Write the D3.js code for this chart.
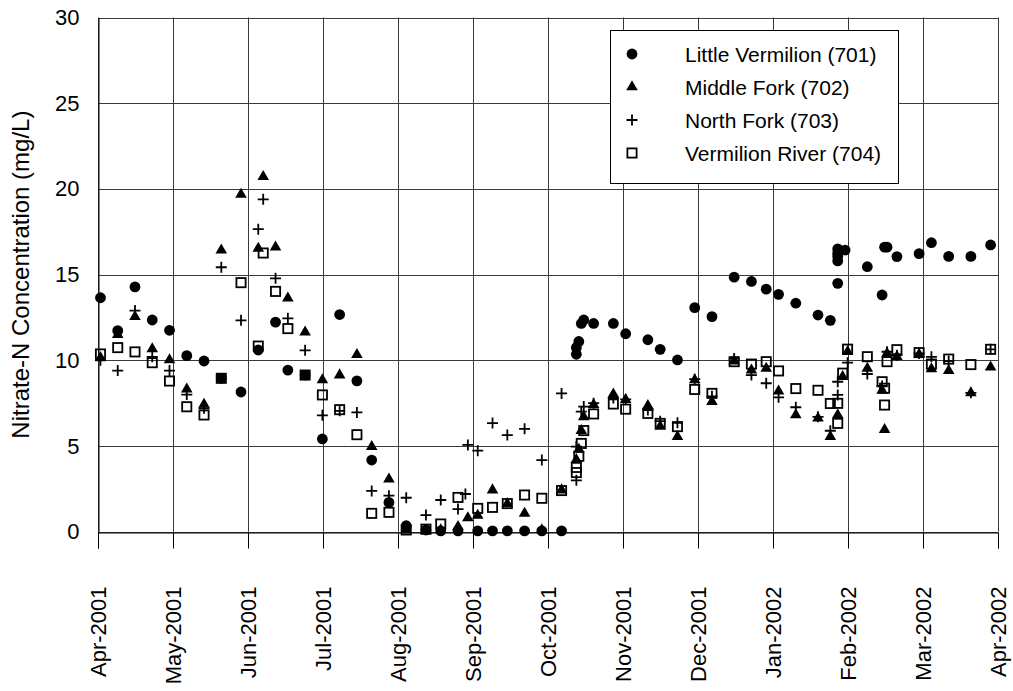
<!DOCTYPE html>
<html>
<head>
<meta charset="utf-8">
<script src="https://cdn.jsdelivr.net/npm/d3@7"></script>
<style>
  body { margin: 0; background: #fff; }
  text { font-family: Arial, "Liberation Sans", sans-serif; fill: #000; }
</style>
</head>
<body>
<div id="chart"></div>
<script>
"use strict";

// tick labels for the x axis (evenly spaced between Apr-2001 and Apr-2002)
const monthLabels = ["Apr-2001", "May-2001", "Jun-2001", "Jul-2001", "Aug-2001", "Sep-2001",
  "Oct-2001", "Nov-2001", "Dec-2001", "Jan-2002", "Feb-2002", "Mar-2002", "Apr-2002"];
const yTicks = [0, 5, 10, 15, 20, 25, 30];

const seriesNames = ["Little Vermilion (701)", "Middle Fork (702)", "North Fork (703)", "Vermilion River (704)"];

// Little Vermilion (701) - filled circles
const lv701 = [
  ["2001-04-02", 13.65], ["2001-04-09", 11.73], ["2001-04-16", 14.28], ["2001-04-23", 12.35],
  ["2001-04-30", 11.75], ["2001-05-07", 10.27], ["2001-05-14", 9.96], ["2001-05-21", 8.95],
  ["2001-05-29", 8.15], ["2001-06-05", 10.6], ["2001-06-12", 12.23], ["2001-06-17", 9.43],
  ["2001-06-24", 9.14], ["2001-07-01", 5.41], ["2001-07-08", 12.67], ["2001-07-15", 8.8],
  ["2001-07-21", 4.18], ["2001-07-28", 1.71], ["2001-08-04", 0.35], ["2001-08-12", 0.1],
  ["2001-08-18", 0.05], ["2001-08-25", 0.05], ["2001-09-02", 0.05], ["2001-09-08", 0.05],
  ["2001-09-14", 0.05], ["2001-09-21", 0.05], ["2001-09-28", 0.05], ["2001-10-06", 0.05],
  ["2001-10-12", 10.35], ["2001-10-12", 10.75], ["2001-10-13", 11.1], ["2001-10-14", 12.15],
  ["2001-10-15", 12.35], ["2001-10-19", 12.15], ["2001-10-27", 12.15], ["2001-11-01", 11.55],
  ["2001-11-10", 11.2], ["2001-11-15", 10.64], ["2001-11-22", 10.02], ["2001-11-29", 13.07],
  ["2001-12-06", 12.55], ["2001-12-15", 14.85], ["2001-12-22", 14.6], ["2001-12-28", 14.15],
  ["2002-01-02", 13.85], ["2002-01-09", 13.33], ["2002-01-18", 12.64], ["2002-01-23", 12.33],
  ["2002-01-26", 14.49], ["2002-01-26", 15.8], ["2002-01-26", 16.05], ["2002-01-26", 16.25],
  ["2002-01-26", 16.5], ["2002-01-29", 16.43], ["2002-02-07", 15.46], ["2002-02-13", 13.81],
  ["2002-02-14", 16.6], ["2002-02-15", 16.6], ["2002-02-19", 16.05], ["2002-02-28", 16.22],
  ["2002-03-05", 16.86], ["2002-03-12", 16.06], ["2002-03-21", 16.06], ["2002-03-29", 16.73]
];

// Middle Fork (702) - filled triangles
const mf702 = [
  ["2001-04-02", 10.15], ["2001-04-09", 11.5], ["2001-04-16", 12.55], ["2001-04-23", 10.66],
  ["2001-04-30", 10.02], ["2001-05-07", 8.31], ["2001-05-14", 7.43], ["2001-05-21", 16.43],
  ["2001-05-29", 19.68], ["2001-06-05", 16.53], ["2001-06-07", 20.71], ["2001-06-12", 16.6],
  ["2001-06-17", 13.63], ["2001-06-24", 11.64], ["2001-07-01", 8.85], ["2001-07-08", 9.14],
  ["2001-07-15", 10.33], ["2001-07-21", 4.96], ["2001-07-28", 3.06], ["2001-08-04", 0.1],
  ["2001-08-12", 0.05], ["2001-08-18", 0.1], ["2001-08-25", 0.29], ["2001-08-29", 0.8],
  ["2001-09-02", 0.95], ["2001-09-08", 2.43], ["2001-09-14", 1.63], ["2001-09-21", 1.07],
  ["2001-09-28", 0.1], ["2001-10-06", 2.43], ["2001-10-12", 4.2], ["2001-10-13", 4.8],
  ["2001-10-14", 5.9], ["2001-10-15", 6.7], ["2001-10-19", 7.41], ["2001-10-27", 8.02],
  ["2001-11-01", 7.7], ["2001-11-10", 7.35], ["2001-11-15", 6.15], ["2001-11-22", 5.54],
  ["2001-11-29", 8.85], ["2001-12-06", 7.59], ["2001-12-15", 9.95], ["2001-12-22", 9.43],
  ["2001-12-28", 9.53], ["2002-01-02", 8.2], ["2002-01-09", 6.81], ["2002-01-18", 6.62],
  ["2002-01-23", 5.54], ["2002-01-26", 6.81], ["2002-01-28", 9.05], ["2002-01-30", 10.5],
  ["2002-02-07", 9.53], ["2002-02-13", 8.25], ["2002-02-14", 5.95], ["2002-02-15", 10.4],
  ["2002-02-19", 10.21], ["2002-02-28", 10.35], ["2002-03-05", 9.5], ["2002-03-12", 9.4],
  ["2002-03-21", 8.1], ["2002-03-29", 9.6]
];

// North Fork (703) - plus signs
const nf703 = [
  ["2001-04-02", 10.0], ["2001-04-09", 9.4], ["2001-04-16", 12.9], ["2001-04-23", 10.2],
  ["2001-04-30", 9.4], ["2001-05-07", 8.0], ["2001-05-14", 7.2], ["2001-05-21", 15.43],
  ["2001-05-29", 12.33], ["2001-06-05", 17.65], ["2001-06-07", 19.39], ["2001-06-12", 14.78],
  ["2001-06-17", 12.45], ["2001-06-24", 10.58], ["2001-07-01", 6.79], ["2001-07-08", 7.05],
  ["2001-07-15", 6.96], ["2001-07-21", 2.38], ["2001-07-28", 2.1], ["2001-08-04", 1.98],
  ["2001-08-12", 0.97], ["2001-08-18", 1.85], ["2001-08-25", 1.32], ["2001-08-28", 2.2],
  ["2001-08-29", 5.06], ["2001-09-02", 4.73], ["2001-09-08", 6.34], ["2001-09-14", 5.64],
  ["2001-09-21", 6.0], ["2001-09-28", 4.18], ["2001-10-06", 8.07], ["2001-10-12", 3.0],
  ["2001-10-12", 4.96], ["2001-10-14", 7.0], ["2001-10-15", 7.3], ["2001-10-19", 7.5],
  ["2001-10-27", 7.8], ["2001-11-01", 7.72], ["2001-11-10", 7.1], ["2001-11-15", 6.45],
  ["2001-11-22", 6.35], ["2001-11-29", 8.9], ["2001-12-06", 7.9], ["2001-12-15", 10.1],
  ["2001-12-22", 9.14], ["2001-12-28", 8.66], ["2002-01-02", 7.84], ["2002-01-09", 7.26],
  ["2002-01-18", 6.7], ["2002-01-23", 5.89], ["2002-01-26", 7.98], ["2002-01-26", 8.75],
  ["2002-01-30", 9.86], ["2002-02-07", 9.2], ["2002-02-13", 8.5], ["2002-02-15", 10.5],
  ["2002-02-19", 10.3], ["2002-02-28", 10.4], ["2002-03-05", 10.2], ["2002-03-12", 9.95],
  ["2002-03-21", 8.1], ["2002-03-29", 10.64]
];

// Vermilion River (704) - open squares
const vr704 = [
  ["2001-04-02", 10.37], ["2001-04-09", 10.74], ["2001-04-16", 10.49], ["2001-04-23", 9.86],
  ["2001-04-30", 8.79], ["2001-05-07", 7.29], ["2001-05-14", 6.81], ["2001-05-21", 8.95],
  ["2001-05-29", 14.53], ["2001-06-05", 10.83], ["2001-06-07", 16.26], ["2001-06-12", 14.02],
  ["2001-06-17", 11.85], ["2001-06-24", 9.14], ["2001-07-01", 7.98], ["2001-07-08", 7.12],
  ["2001-07-15", 5.66], ["2001-07-21", 1.07], ["2001-07-28", 1.13], ["2001-08-04", 0.1],
  ["2001-08-12", 0.15], ["2001-08-18", 0.45], ["2001-08-25", 2.0], ["2001-09-02", 1.36],
  ["2001-09-08", 1.42], ["2001-09-14", 1.64], ["2001-09-21", 2.14], ["2001-09-28", 1.95],
  ["2001-10-06", 2.4], ["2001-10-12", 3.45], ["2001-10-12", 3.75], ["2001-10-13", 4.4],
  ["2001-10-14", 5.15], ["2001-10-15", 5.9], ["2001-10-19", 6.87], ["2001-10-27", 7.45],
  ["2001-11-01", 7.15], ["2001-11-10", 6.9], ["2001-11-15", 6.32], ["2001-11-22", 6.13],
  ["2001-11-29", 8.3], ["2001-12-06", 8.07], ["2001-12-15", 9.92], ["2001-12-22", 9.78],
  ["2001-12-28", 9.92], ["2002-01-02", 9.38], ["2002-01-09", 8.35], ["2002-01-18", 8.25],
  ["2002-01-23", 7.48], ["2002-01-26", 6.32], ["2002-01-26", 7.49], ["2002-01-28", 9.25],
  ["2002-01-30", 10.65], ["2002-02-07", 10.21], ["2002-02-13", 8.75], ["2002-02-14", 8.37],
  ["2002-02-14", 7.39], ["2002-02-15", 9.92], ["2002-02-19", 10.62], ["2002-02-28", 10.45],
  ["2002-03-05", 9.78], ["2002-03-12", 10.07], ["2002-03-21", 9.75], ["2002-03-29", 10.64]
];

const size = {
  width: 1013,
  height: 691,
  left: 98,
  right: 998,
  top: 17.5,
  bottom: 531.7
};

const parseDate = d3.utcParse("%Y-%m-%d");

window.onload = function () {
  let svg = d3.select("#chart")
    .append("svg")
    .attr("width", size.width)
    .attr("height", size.height);

  let start = parseDate("2001-04-01");
  let end = parseDate("2002-04-01");

  let xScale = d3.scaleUtc()
    .domain([start, end])
    .range([size.left, size.right]);

  let yScale = d3.scaleLinear()
    .domain([0, 30])
    .range([size.bottom, size.top]);

  // evenly spaced month ticks, like the original axis
  let xTickDates = monthLabels.map((m, i) => new Date(+start + i * (end - start) / 12));

  drawGrid(svg, xScale, yScale, xTickDates);
  drawAxes(svg, xScale, yScale, xTickDates);
  plotData(svg, xScale, yScale);
  drawLegend(svg);
};

function drawGrid(svg, xScale, yScale, xTickDates) {
  let grid = svg.append("g");

  grid.selectAll(".hgrid")
    .data(yTicks)
    .enter()
    .append("line")
    .attr("x1", size.left)
    .attr("x2", size.right)
    .attr("y1", d => Math.round(yScale(d)) + 0.5)
    .attr("y2", d => Math.round(yScale(d)) + 0.5)
    .attr("stroke", "#3a3a3a")
    .attr("stroke-width", 1);

  grid.selectAll(".vgrid")
    .data(xTickDates)
    .enter()
    .append("line")
    .attr("x1", d => Math.round(xScale(d)) + 0.5)
    .attr("x2", d => Math.round(xScale(d)) + 0.5)
    .attr("y1", size.top)
    .attr("y2", size.bottom)
    .attr("stroke", "#3a3a3a")
    .attr("stroke-width", 1);
}

function drawAxes(svg, xScale, yScale, xTickDates) {
  let xAxis = d3.axisBottom(xScale)
    .tickValues(xTickDates)
    .tickSize(16)
    .tickFormat((d, i) => monthLabels[i]);

  let gx = svg.append("g")
    .attr("transform", "translate(0," + (Math.round(size.bottom) + 0.5) + ")")
    .call(xAxis);
  gx.select(".domain").attr("stroke", "#000");
  gx.selectAll(".tick line").attr("stroke", "#000");
  gx.selectAll(".tick text")
    .attr("font-size", "22px")
    .attr("text-anchor", "end")
    .attr("transform", "translate(0,54) rotate(-90)")
    .attr("x", 0)
    .attr("y", 0)
    .attr("dy", "0.36em");

  let yAxis = d3.axisLeft(yScale)
    .tickValues(yTicks)
    .tickSize(0)
    .tickPadding(19);

  let gy = svg.append("g")
    .attr("transform", "translate(" + (size.left + 0.5) + ",0)")
    .call(yAxis);
  gy.select(".domain").attr("stroke", "#000");
  gy.selectAll(".tick text").attr("font-size", "22px");

  svg.append("text")
    .attr("transform", "translate(21," + ((size.top + size.bottom) / 2) + ") rotate(-90)")
    .attr("text-anchor", "middle")
    .attr("dy", "0.35em")
    .attr("font-size", "24px")
    .text("Nitrate-N Concentration (mg/L)");
}

function drawMarker(sel, kind) {
  if (kind == "circle") {
    sel.append("circle").attr("r", 5.4).attr("fill", "#000");
  } else if (kind == "triangle") {
    sel.append("path").attr("d", d3.symbol().type(d3.symbolTriangle).size(58)()).attr("fill", "#000");
  } else if (kind == "plus") {
    sel.append("path")
      .attr("d", "M-5.5,0H5.5M0,-5.5V5.5")
      .attr("stroke", "#000")
      .attr("stroke-width", 1.8)
      .attr("fill", "none");
  } else {
    sel.append("rect")
      .attr("x", -4.6).attr("y", -4.6)
      .attr("width", 9.2).attr("height", 9.2)
      .attr("fill", "none")
      .attr("stroke", "#000")
      .attr("stroke-width", 1.8);
  }
}

const kinds = ["circle", "triangle", "plus", "square"];

function plotData(svg, xScale, yScale) {
  let allSeries = [lv701, mf702, nf703, vr704];
  allSeries.forEach((rows, k) => {
    let g = svg.append("g").attr("class", "series" + k);
    g.selectAll(".pt")
      .data(rows)
      .enter()
      .append("g")
      .attr("class", "pt")
      .attr("transform", d => "translate(" + xScale(parseDate(d[0])) + "," + yScale(d[1]) + ")")
      .each(function () { drawMarker(d3.select(this), kinds[k]); });
  });
}

function drawLegend(svg) {
  let lg = svg.append("g");
  lg.append("rect")
    .attr("x", 610.5)
    .attr("y", 30.5)
    .attr("width", 288)
    .attr("height", 153)
    .attr("fill", "#fff")
    .attr("stroke", "#000")
    .attr("stroke-width", 1);

  let rowY = d3.scalePoint().domain(seriesNames).range([54, 153]);

  let rows = lg.selectAll(".row")
    .data(seriesNames)
    .enter()
    .append("g")
    .attr("transform", d => "translate(0," + rowY(d) + ")");

  rows.append("g")
    .attr("transform", "translate(632,0)")
    .each(function (d, i) { drawMarker(d3.select(this), kinds[i]); });

  rows.append("text")
    .attr("x", 685)
    .attr("dy", "0.36em")
    .attr("font-size", "21px")
    .text(d => d);
}
</script>
</body>
</html>
